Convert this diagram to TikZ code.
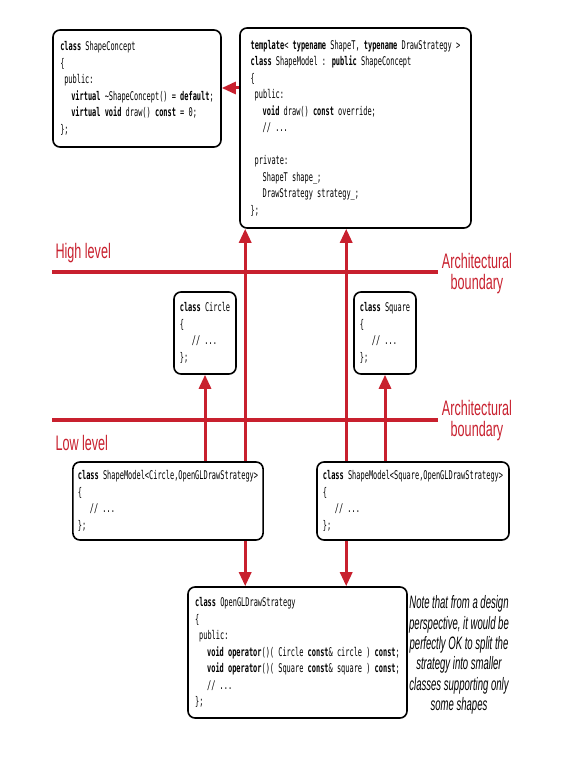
\documentclass[tikz,border=0pt]{standalone}
\usepackage{fontspec}
\usepackage{tikz}
\usetikzlibrary{arrows.meta,positioning}
\newfontfamily\codefont[FakeStretch=0.58]{DejaVu Sans Mono}
\newfontfamily\levelfont[FakeStretch=0.6]{Liberation Sans}
\newfontfamily\notefont[FakeStretch=0.53]{Liberation Sans}
\definecolor{boundaryred}{RGB}{200,32,46}

\begin{document}
\begin{tikzpicture}[x=1pt, y=-1pt,
    codebox/.style={draw, line width=1.6pt, rounded corners=7pt, fill=white, align=left,
      inner xsep=5pt, inner ysep=0pt, font=\codefont\fontsize{12}{16.5}\selectfont},
    boundary/.style={boundaryred, line width=4pt},
    flow/.style={boundaryred, line width=3pt, -{Triangle[width=12pt,length=14pt]}},
    levellabel/.style={boundaryred, font=\levelfont\fontsize{21}{22}\selectfont, align=center}]
    \useasboundingbox (0,0) rectangle (568,778);

    % High level
    \node [codebox, minimum width=168pt, minimum height=117pt] (concept) at (137,88.5) {%
      \textbf{class} ShapeConcept\\
      \{\\
      \hspace*{4pt}public:\\
      \hspace*{11pt}\textbf{virtual} \textasciitilde ShapeConcept() = \textbf{default};\\
      \hspace*{11pt}\textbf{virtual} \textbf{void} draw() \textbf{const} = 0;\\
      \};};
    \node [codebox, minimum width=231pt, minimum height=200pt] (model) at (355.5,128) {%
      \textbf{template}< \textbf{typename} ShapeT, \textbf{typename} DrawStrategy >\\
      \textbf{class} ShapeModel : \textbf{public} ShapeConcept\\
      \{\\
      \hspace*{4pt}public:\\
      \hspace*{12pt}\textbf{void} draw() \textbf{const} override;\\
      \hspace*{12pt}// ...\\
      \mbox{}\\
      \hspace*{4pt}private:\\
      \hspace*{12pt}ShapeT shape\_;\\
      \hspace*{12pt}DrawStrategy strategy\_;\\
      \};};

    % Shapes
    \node [codebox, minimum width=62pt, minimum height=82pt] (circle) at (205,333) {%
      \textbf{class} Circle\\
      \{\\
      \hspace*{12pt}// ...\\
      \};};
    \node [codebox, minimum width=62pt, minimum height=82pt] (square) at (385,333) {%
      \textbf{class} Square\\
      \{\\
      \hspace*{12pt}// ...\\
      \};};

    % Low level
    \node [codebox, minimum width=190pt, minimum height=78pt] (cmodel) at (168,501) {%
      \textbf{class} ShapeModel<Circle,OpenGLDrawStrategy>\\
      \{\\
      \hspace*{12pt}// ...\\
      \};};
    \node [codebox, minimum width=192pt, minimum height=78pt] (smodel) at (413,501) {%
      \textbf{class} ShapeModel<Square,OpenGLDrawStrategy>\\
      \{\\
      \hspace*{12pt}// ...\\
      \};};
    \node [codebox, minimum width=219pt, minimum height=131pt] (strategy) at (297.5,652.5) {%
      \textbf{class} OpenGLDrawStrategy\\
      \{\\
      \hspace*{4pt}public:\\
      \hspace*{12pt}\textbf{void} \textbf{operator}()( Circle \textbf{const}\& circle ) \textbf{const};\\
      \hspace*{12pt}\textbf{void} \textbf{operator}()( Square \textbf{const}\& square ) \textbf{const};\\
      \hspace*{12pt}// ...\\
      \};};
    \node [font=\notefont\itshape\fontsize{18}{20.4}\selectfont, align=center] (note) at (459,655) {%
      Note that from a design\\
      perspective, it would be\\
      perfectly OK to split the\\
      strategy into smaller\\
      classes supporting only\\
      some shapes};

    % Labels
    \node [levellabel, anchor=west] (highlabel) at (52,253) {High level};
    \node [levellabel, anchor=west] (lowlabel) at (52,443) {Low level};
    \node [levellabel] (archhigh) at (477,274) {Architectural\\[-1pt]boundary};
    \node [levellabel] (archlow) at (477,421) {Architectural\\[-1pt]boundary};

    % Boundaries
    \coordinate (highstart) at (52,272);
    \coordinate (lowstart) at (52,420);
    \draw [boundary] (highstart) -- (highstart -| archhigh.west);
    \draw [boundary] (lowstart) -- (lowstart -| archlow.west);

    % Arrows
    \draw [flow] (model.west |- 0,88) -- (concept.east |- 0,88);
    \draw [flow] ([xshift=6pt]model.south west |- cmodel.north) -- ([xshift=6pt]model.south west);
    \draw [flow] ([xshift=30pt]smodel.north west) -- ([xshift=30pt]smodel.north west |- model.south);
    \draw [flow] (circle.south |- cmodel.north) -- (circle.south);
    \draw [flow] (square.south |- smodel.north) -- (square.south);
    \draw [flow] ([xshift=6pt]model.south west |- cmodel.south) -- ([xshift=6pt]model.south west |- strategy.north);
    \draw [flow] ([xshift=30pt]smodel.south west) -- ([xshift=30pt]smodel.south west |- strategy.north);
\end{tikzpicture}
\end{document}
